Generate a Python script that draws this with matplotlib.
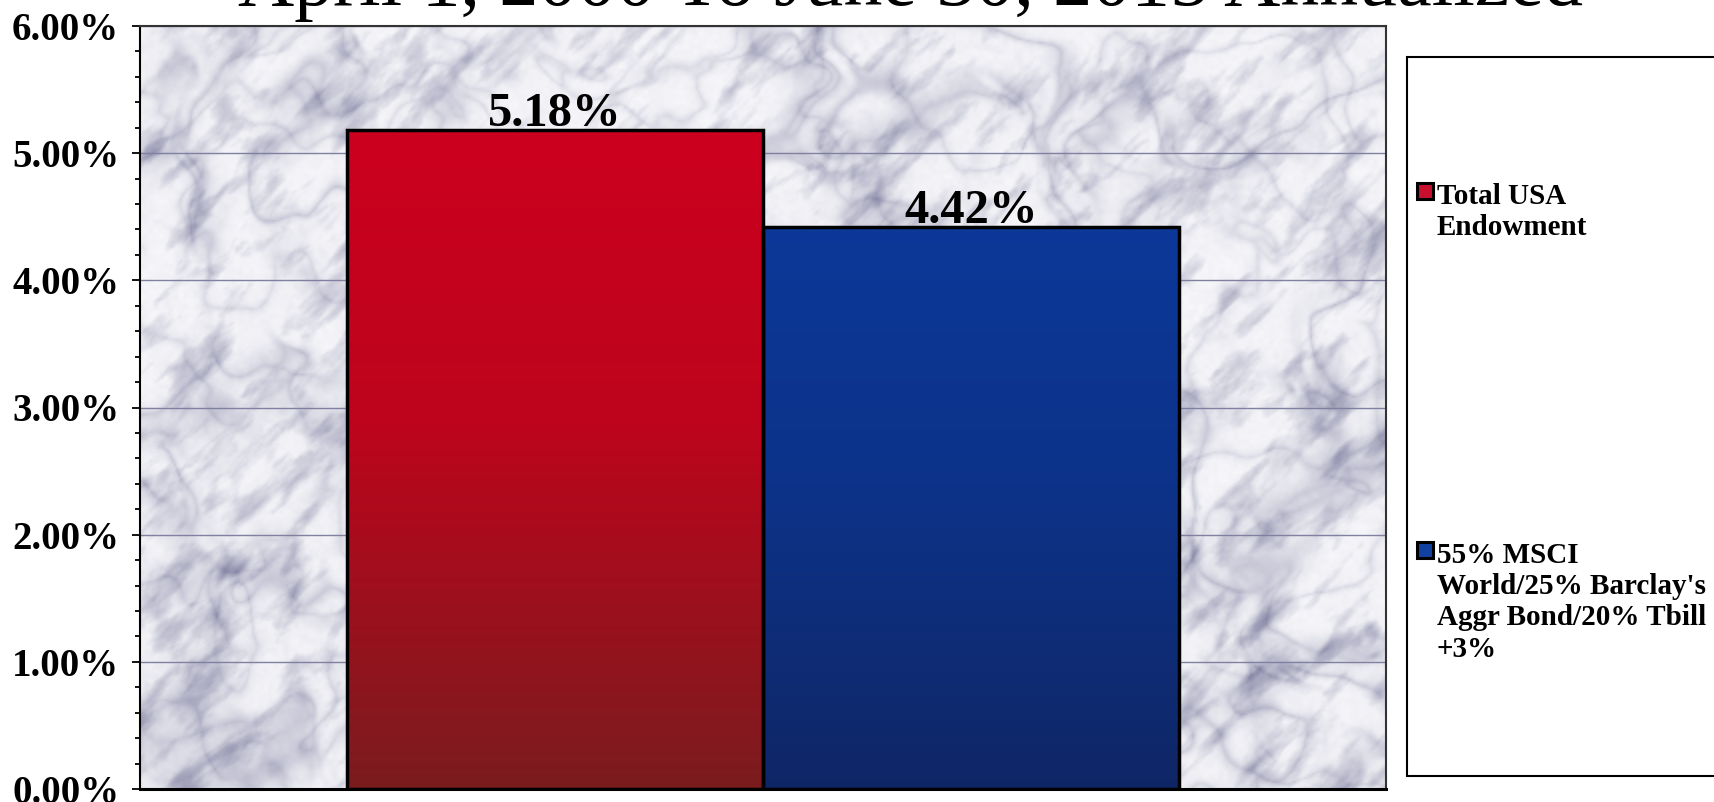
import numpy as np
import matplotlib
matplotlib.use('Agg')
import matplotlib.pyplot as plt
from matplotlib.patches import Rectangle
from matplotlib.ticker import MultipleLocator, FuncFormatter

## datos
title      = 'April 1, 2000 To June 30, 2015 Annualized'
series     = ['Total USA\nEndowment',
              "55% MSCI\nWorld/25% Barclay's\nAggr Bond/20% Tbill\n+3%"]
values     = [5.18, 4.42]
yticks     = [0, 1, 2, 3, 4, 5, 6]

## estilos
W, H  = 1714, 802
serif = ['Liberation Serif', 'DejaVu Serif']
# gradiente de cada barra (arriba -> abajo)
grad_stops = [0.0, 0.45, 1.0]
grad_cols  = [[(0.80, 0.00, 0.12), (0.74, 0.02, 0.11), (0.48, 0.11, 0.12)],
              [(0.05, 0.22, 0.60), (0.05, 0.20, 0.54), (0.06, 0.15, 0.40)]]
key_cols   = ['#c8102e', '#1040a0']


## textura de marmol (ruido determinista, solo decorativo)
def hash2(i, j):
    return np.abs(np.modf(np.sin(i*127.1 + j*311.7)*43758.5453)[0])

def vnoise(u, v):
    i, j = np.floor(u), np.floor(v)
    fu, fv = u - i, v - j
    fu = fu*fu*(3 - 2*fu)
    fv = fv*fv*(3 - 2*fv)
    a, b = hash2(i, j), hash2(i + 1, j)
    c, d = hash2(i, j + 1), hash2(i + 1, j + 1)
    return (a*(1 - fu) + b*fu)*(1 - fv) + (c*(1 - fu) + d*fu)*fv

def fbm(u, v, octs=5):
    s, amp, tot = 0, 1.0, 0
    for o in range(octs):
        s = s + amp*vnoise(u*2**o + 13.7*o, v*2**o + 7.3*o)
        tot += amp
        amp *= 0.5
    return s/tot

def marble(nx=623, ny=382):
    X, Y = np.meshgrid(np.arange(nx)*2.0, np.arange(ny)*2.0)
    p = (X - Y)/np.sqrt(2)   # a lo largo de "/"
    q = (X + Y)/np.sqrt(2)
    warp  = fbm(X/140, Y/140, 3)
    blot  = fbm(p/45 + 2*warp, q/16, 5)
    vn    = fbm(X/170 + 2.5*warp, Y/170 - 1.5*warp, 4)
    vein  = np.exp(-np.abs(vn - 0.5)*22)
    vn2   = fbm(X/90 + 7.1, Y/90 + 3.3*warp, 3)
    vein2 = np.exp(-np.abs(vn2 - 0.5)*26)
    grain = fbm(X/5, Y/5, 2)
    d = (0.42*np.clip((blot - 0.5)*2.6, 0, 1) + 0.30*vein + 0.18*vein2
         + 0.07*grain)
    d = np.clip(d, 0, 1)[..., None]
    light = np.array([0.98, 0.98, 0.99])
    dark  = np.array([0.42, 0.42, 0.57])
    return light*(1 - d) + dark*d


def gradient(cols, n=256):
    s = np.linspace(0, 1, n)
    c = np.array(cols)
    img = np.stack([np.interp(s, grad_stops, c[:, k]) for k in range(3)], axis=1)
    return img[:, None, :]


fig = plt.figure(figsize=(W/100, H/100), dpi=100)
ax = fig.add_axes([140/W, 1 - 789/H, (1386 - 140)/W, (789 - 26)/H])

ax.imshow(marble(), extent=(-0.5, 0.5, 0, 6), aspect='auto', origin='upper',
          zorder=0, interpolation='bilinear')

w  = 0.334
xs = [-w/2, w/2]
bars = ax.bar(xs, values, width=w, facecolor='none', edgecolor='black',
              linewidth=2.5, zorder=3)
for bar, cols in zip(bars, grad_cols):
    x0 = bar.get_x()
    im = ax.imshow(gradient(cols), extent=(x0, x0 + w, 0, bar.get_height()),
                   aspect='auto', origin='upper', zorder=2)
    im.set_clip_path(bar)

for x, v in zip(xs, values):
    ax.text(x, v + 0.03, '{:.2f}%'.format(v), ha='center', va='baseline',
            fontsize=35, fontweight='bold', family=serif, zorder=4)

ax.set_xlim(-0.5, 0.5)
ax.set_ylim(yticks[0], yticks[-1])
ax.set_xticks([])
ax.set_yticks(yticks)
ax.yaxis.set_minor_locator(MultipleLocator(0.2))
ax.yaxis.set_major_formatter(FuncFormatter(lambda v, p: '{:.2f}%'.format(v)))
ax.tick_params(axis='y', which='major', length=6, width=1.3, pad=9, labelsize=28)
ax.tick_params(axis='y', which='minor', length=3.5, width=1.3)
for lab in ax.get_yticklabels():
    lab.set_family(serif)
    lab.set_fontweight('bold')
ax.yaxis.grid(True, color='#8080a0', linewidth=1.0)
ax.set_axisbelow(True)
for sp in ax.spines.values():
    sp.set_color('#333333')
    sp.set_linewidth(1.5)
ax.spines['bottom'].set_color('black')
ax.spines['bottom'].set_linewidth(2.2)
ax.spines['left'].set_color('black')

## titulo (cortado arriba, como en el original)
tt = fig.text(911/W, 1 - 5/H, title, ha='center', va='baseline',
              fontsize=50, family=serif)
fig.canvas.draw()
bb = tt.get_window_extent()
tt.set_fontsize(50*1347/bb.width)

## leyenda
fig.patches.append(Rectangle((1407/W, 1 - 776/H), 400/W, (776 - 57)/H,
                             transform=fig.transFigure, figure=fig,
                             facecolor='white', edgecolor='black', linewidth=1.5))
key_y = [183, 542]
for lab, col, ky in zip(series, key_cols, key_y):
    fig.patches.append(Rectangle((1417/W, 1 - (ky + 16)/H), 16/W, 16/H,
                                 transform=fig.transFigure, figure=fig,
                                 facecolor=col, edgecolor='black', linewidth=2.2))
    fig.text(1437/W, 1 - ky/H, lab, ha='left', va='top', fontsize=21,
             fontweight='bold', family=serif, linespacing=1.2)

fig.savefig('out.png', dpi=100)
